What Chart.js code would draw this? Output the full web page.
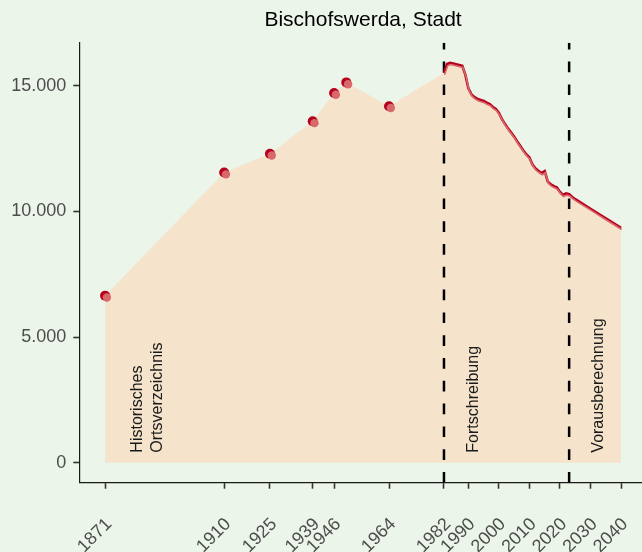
<!DOCTYPE html>
<html>
<head>
<meta charset="utf-8">
<script src="https://cdn.jsdelivr.net/npm/chart.js@4.4.1/dist/chart.umd.min.js"></script>
<style>
  html, body { margin: 0; padding: 0; background: #ecf5e9; overflow: hidden; width: 642px; height: 552px; }
  canvas { display: block; }
</style>
</head>
<body>
<canvas id="popChart" width="662" height="552"></canvas>
<script>
// Historisches Ortsverzeichnis (census points)
const histYears = [1871, 1910, 1925, 1939, 1946, 1950, 1964];
const histPop = [6650, 11550, 12300, 13590, 14720, 15140, 14190];

// Fortschreibung (yearly)
const fortYears = [1982, 1983, 1984, 1985, 1986, 1987, 1988, 1989, 1990, 1991,
                   1992, 1993, 1994, 1995, 1996, 1997, 1998, 1999, 2000, 2001,
                   2002, 2003, 2004, 2005, 2006, 2007, 2008, 2009, 2010, 2011,
                   2012, 2013, 2014, 2015, 2016, 2017, 2018, 2019, 2020, 2021, 2022];
const fortPop = [15510, 15870, 15920, 15890, 15860, 15830, 15800, 15450, 14900, 14660,
                 14550, 14480, 14440, 14400, 14330, 14280, 14160, 14080, 13920, 13680,
                 13480, 13300, 13140, 12980, 12790, 12610, 12430, 12270, 12150, 11870,
                 11710, 11610, 11530, 11610, 11190, 11080, 11010, 10950, 10780, 10660, 10720];

// Vorausberechnung
const projYears = [2023, 2024, 2025, 2030, 2035, 2040];
const projPop = [10690, 10580, 10490, 10110, 9730, 9350];

// axis ticks and section markers
const xTicks = [1871, 1910, 1925, 1939, 1946, 1964, 1982, 1990, 2000, 2010, 2020, 2030, 2040];
const yTicks = [0, 5000, 10000, 15000];
const breakYears = [1982, 2023];
const sectionLabels = [['Historisches', 'Ortsverzeichnis'], ['Fortschreibung'], ['Vorausberechnung']];
const sectionYears = [1885, 1991.7, 2032.5];

const X_MIN = 1862.55, X_MAX = 2048.45;
const Y_MIN = -796, Y_MAX = 16720;
const FONT = '"Liberation Sans", Arial, Helvetica, sans-serif';
const DARK = '#b5001e';
const LIGHT = '#d9686a';

const toXY = (xs, ys) => xs.map((x, i) => ({ x: x, y: ys[i] }));
const histPts = toXY(histYears, histPop);
const linePts = toXY(fortYears, fortPop).concat(toXY(projYears, projPop));

const fmt = v => String(v).replace(/\B(?=(\d{3})+(?!\d))/g, '.');

// draws the lighter copy of line/points slightly shifted
const shadowPlugin = {
    id: 'shadowOffset',
    beforeDatasetDraw(chart, args) {
        const ds = chart.data.datasets[args.index];
        if (ds.shift) {
            chart.ctx.save();
            chart.ctx.translate(ds.shift[0], ds.shift[1]);
        }
    },
    afterDatasetDraw(chart, args) {
        if (chart.data.datasets[args.index].shift) chart.ctx.restore();
    }
};

const labelPlugin = {
    id: 'sectionLabels',
    afterDatasetsDraw(chart) {
        const { ctx, scales: { x, y } } = chart;
        ctx.save();
        ctx.font = '16px ' + FONT;
        ctx.fillStyle = '#1a1a1a';
        ctx.textAlign = 'left';
        ctx.textBaseline = 'middle';
        sectionLabels.forEach((lines, i) => {
            const px = x.getPixelForValue(sectionYears[i]);
            const py = y.getPixelForValue(400);
            lines.forEach((t, j) => {
                ctx.save();
                ctx.translate(px + (j - (lines.length - 1) / 2) * 20.5, py);
                ctx.rotate(-Math.PI / 2);
                ctx.fillText(t, 0, 0);
                ctx.restore();
            });
        });
        ctx.restore();
    }
};

const dashSets = breakYears.map(yr => ({
    data: [{ x: yr, y: Y_MIN }, { x: yr, y: Y_MAX }],
    borderColor: '#000',
    borderWidth: 2.5,
    borderDash: [10.7, 12.1],
    pointRadius: 0,
    fill: false,
    order: 4
}));

const ctx = document.getElementById('popChart').getContext('2d');
const popChart = new Chart(ctx, {
    type: 'line',
    data: {
        datasets: [
            {
                data: histPts.concat(linePts),
                backgroundColor: '#f5e3cc',
                borderColor: 'transparent',
                borderWidth: 0,
                pointRadius: 0,
                fill: 'origin',
                order: 5
            },
            ...dashSets,
            {
                data: linePts,
                borderColor: DARK,
                borderWidth: 2.6,
                pointRadius: 0,
                fill: false,
                order: 3
            },
            {
                data: linePts,
                borderColor: LIGHT,
                borderWidth: 1.6,
                pointRadius: 0,
                fill: false,
                shift: [0.6, 1.7],
                order: 2
            },
            {
                data: histPts,
                showLine: false,
                pointRadius: 5,
                pointBackgroundColor: DARK,
                pointBorderWidth: 0,
                order: 1
            },
            {
                data: histPts,
                showLine: false,
                pointRadius: 4.2,
                pointBackgroundColor: LIGHT,
                pointBorderWidth: 0,
                shift: [1.8, 1.8],
                order: 0
            }
        ]
    },
    options: {
        responsive: false,
        animation: false,
        devicePixelRatio: 1,
        layout: { padding: 0 },
        plugins: {
            legend: { display: false },
            tooltip: { enabled: false },
            title: {
                display: true,
                text: 'Bischofswerda, Stadt',
                color: '#000',
                fullSize: false,
                font: { family: FONT, size: 21, weight: 'normal' },
                padding: { top: 8, bottom: 9.5 }
            }
        },
        scales: {
            x: {
                type: 'linear',
                min: X_MIN,
                max: X_MAX,
                afterBuildTicks: s => { s.ticks = xTicks.map(v => ({ value: v })); },
                afterFit: s => { s.height = 69.3; },
                ticks: {
                    autoSkip: false,
                    minRotation: 45,
                    maxRotation: 45,
                    padding: 25,
                    labelOffset: 4,
                    color: '#4d4d4d',
                    font: { family: FONT, size: 18 },
                    callback: v => String(v)
                },
                grid: { drawOnChartArea: false, drawTicks: true, tickLength: 6, tickWidth: 1.6, tickColor: '#333' },
                border: { display: true, color: '#1a1a1a', width: 1.2 }
            },
            y: {
                min: Y_MIN,
                max: Y_MAX,
                afterBuildTicks: s => { s.ticks = yTicks.map(v => ({ value: v })); },
                afterFit: s => { s.width = 79.3; },
                ticks: {
                    padding: 7,
                    color: '#4d4d4d',
                    font: { family: FONT, size: 18 },
                    callback: v => fmt(v)
                },
                grid: { drawOnChartArea: false, drawTicks: true, tickLength: 6, tickWidth: 1.6, tickColor: '#333' },
                border: { display: true, color: '#1a1a1a', width: 1.2 }
            }
        }
    },
    plugins: [shadowPlugin, labelPlugin]
});
</script>
</body>
</html>
